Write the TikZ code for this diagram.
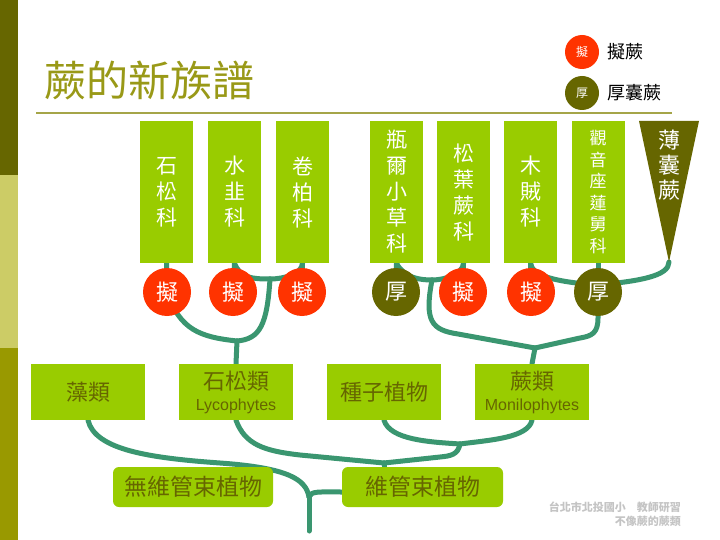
\documentclass[tikz,border=0pt]{standalone}
\usepackage{fontspec}
\setmainfont{Noto Sans CJK TC}
\newfontfamily\latinsans{Liberation Sans}
\usepackage{xcolor}
\usepackage{tikz}
\usetikzlibrary{backgrounds}

\definecolor{barDark}{HTML}{666600}
\definecolor{barLight}{HTML}{CCCC66}
\definecolor{barMid}{HTML}{999900}
\definecolor{titleOlive}{HTML}{999917}
\definecolor{ruleOlive}{HTML}{A5A548}
\definecolor{leafGreen}{HTML}{99CC00}
\definecolor{niRed}{HTML}{FF3300}
\definecolor{houOlive}{HTML}{666600}
\definecolor{textOlive}{HTML}{666600}
\definecolor{branchTeal}{HTML}{3A9670}
\definecolor{wmGray}{HTML}{C4C4C4}

\tikzset{
  famBox/.style={rectangle,fill=leafGreen,minimum width=53pt,minimum height=142pt,inner sep=0pt,
    text=white,align=center,font=\fontsize{21}{26}\selectfont},
  tagNi/.style={circle,fill=niRed,minimum size=48pt,inner sep=0pt,text=white,font=\fontsize{22}{22}\selectfont},
  tagHou/.style={tagNi,fill=houOlive},
  groupBox/.style={rectangle,fill=leafGreen,minimum width=114pt,minimum height=56pt,inner sep=0pt,
    text=textOlive,align=center,font=\fontsize{22}{24}\selectfont},
  plantBox/.style={rectangle,rounded corners=6pt,fill=leafGreen,minimum height=40pt,inner sep=0pt,
    text=textOlive,font=\fontsize{23}{23}\selectfont},
  branch/.style={draw=branchTeal,line width=5pt,line cap=round,line join=round},
}

\begin{document}
\begin{tikzpicture}[x=1pt,y=-1pt]
    \useasboundingbox (0,0) rectangle (720,540);

    % Side bar
    \fill[barDark] (0,0) rectangle (18,175);
    \fill[barLight] (0,175) rectangle (18,348);
    \fill[barMid] (0,348) rectangle (18,540);

    % Title
    \node[anchor=west,text=titleOlive,font=\fontsize{42}{42}\selectfont,inner sep=0pt] (title) at (44,80) {蕨的新族譜};
    \draw[ruleOlive,line width=2.5pt] (36,113) -- (672,113);

    % Legend
    \node[tagNi,minimum size=34pt,font=\fontsize{12}{12}\selectfont] (keyNi) at (582,52) {擬};
    \node[tagHou,minimum size=34pt,font=\fontsize{12}{12}\selectfont] (keyHou) at (582,93) {厚};
    \node[anchor=west,font=\fontsize{18}{18}\selectfont] at (604,52) {擬蕨};
    \node[anchor=west,font=\fontsize{18}{18}\selectfont] at (604,93) {厚囊蕨};

    % Families
    \foreach \n/\x/\t in {fam1/166.5/{石\\松\\科}, fam2/234.5/{水\\韭\\科}, fam3/302.5/{卷\\柏\\科},
                          fam4/396.5/{瓶\\爾\\小\\草\\科}, fam5/463.5/{松\\葉\\蕨\\科}, fam6/530.5/{木\\賊\\科}} {
        \node[famBox] (\n) at (\x,192) {\t};
    }
    \node[famBox,font=\fontsize{17}{21.5}\selectfont] (fam7) at (598,192) {觀\\音\\座\\蓮\\舅\\科};
    \fill[houOlive] (639,121) -- (699,121) -- (669,262) -- cycle;
    \coordinate (leptoTip) at (669,262);
    \node[text=white,align=center,font=\fontsize{22}{25}\selectfont] (lepto) at (669,165) {薄\\囊\\蕨};

    % Marks
    \foreach \n/\x/\s/\t in {mark1/167/tagNi/擬, mark2/233/tagNi/擬, mark3/302/tagNi/擬, mark4/396/tagHou/厚,
                             mark5/463/tagNi/擬, mark6/531/tagNi/擬, mark7/598/tagHou/厚} {
        \node[\s] (\n) at (\x,292) {\t};
    }

    % Groups
    \node[groupBox] (algae) at (88,392) {藻類};
    \node[groupBox] (lyco) at (236,392) {石松類\\[-3pt]{\latinsans\fontsize{16}{16}\selectfont Lycophytes}};
    \node[groupBox] (seed) at (384,392) {種子植物};
    \node[groupBox] (fern) at (532,392) {蕨類\\[-3pt]{\latinsans\fontsize{16}{16}\selectfont Monilophytes}};
    \node[plantBox,minimum width=160pt] (nonvasc) at (193,487) {無維管束植物};
    \node[plantBox,minimum width=161pt] (vasc) at (422.5,487) {維管束植物};

    % Credit
    \node[anchor=north east,align=right,text=wmGray,inner sep=0pt,
          font=\fontsize{11}{14}\selectfont\bfseries] (credit) at (681,502) {台北市北投國小\quad 教師研習\\不像蕨的蕨類};

    % Branches
    \coordinate (jSel) at (270,279);
    \coordinate (jLyc) at (237,341);
    \coordinate (jOph) at (432,280);
    \coordinate (jEqu) at (598,285);
    \coordinate (jFern) at (535,348);
    \coordinate (jEup) at (460,444);
    \coordinate (jVas) at (384,463);
    \coordinate (jTra) at (309,497);
    \coordinate (root) at (309,531);
    \begin{scope}[on background layer]
        \fill[white] (0,0) rectangle (720,540);
        \foreach \i in {1,...,7} {
            \draw[branch] (fam\i.south) -- (mark\i.center);
        }
        \draw[branch] (fam2.south) .. controls (240,278) and (252,279) .. (jSel);
        \draw[branch] (fam3.south) .. controls (302,274) and (284,279) .. (jSel);
        \draw[branch] (jSel) .. controls (267,325) and (260,339) .. (jLyc);
        \draw[branch] (mark1.center) .. controls (180,330) and (200,337) .. (jLyc);
        \draw[branch] (jLyc) -- (lyco.north);
        \draw[branch] (fam4.south) .. controls (404,278) and (420,280) .. (jOph);
        \draw[branch] (fam5.south) .. controls (463,274) and (445,280) .. (jOph);
        \draw[branch] (jOph) .. controls (424,322) and (432,330) .. (458,334) -- (jFern);
        \draw[branch] (fam6.south) .. controls (532,276) and (556,282) .. (jEqu);
        \draw[branch] (leptoTip) .. controls (669,276) and (640,281) .. (jEqu);
        \draw[branch] (jEqu) -- (598,318) .. controls (598,333) and (592,336) .. (580,338) -- (jFern);
        \draw[branch] (jFern) -- (fern.north);
        \draw[branch] (seed.south) .. controls (390,440) and (430,442) .. (jEup);
        \draw[branch] (fern.south) .. controls (528,438) and (490,440) .. (jEup);
        \draw[branch] (jEup) .. controls (458,455) and (450,456) .. (440,457) -- (jVas);
        \draw[branch] (lyco.south) .. controls (245,445) and (265,451) .. (300,455) -- (jVas);
        \draw[branch] (jVas) -- (jVas |- vasc.north);
        \draw[branch] (algae.south) .. controls (95,450) and (150,458) .. (220,463)
                      .. controls (290,468) and (306,480) .. (jTra);
        \draw[branch] (jTra) .. controls (311,491) and (318,492) .. ([yshift=-5pt]vasc.west);
        \draw[branch] (jTra) -- (root);
    \end{scope}
\end{tikzpicture}
\end{document}
